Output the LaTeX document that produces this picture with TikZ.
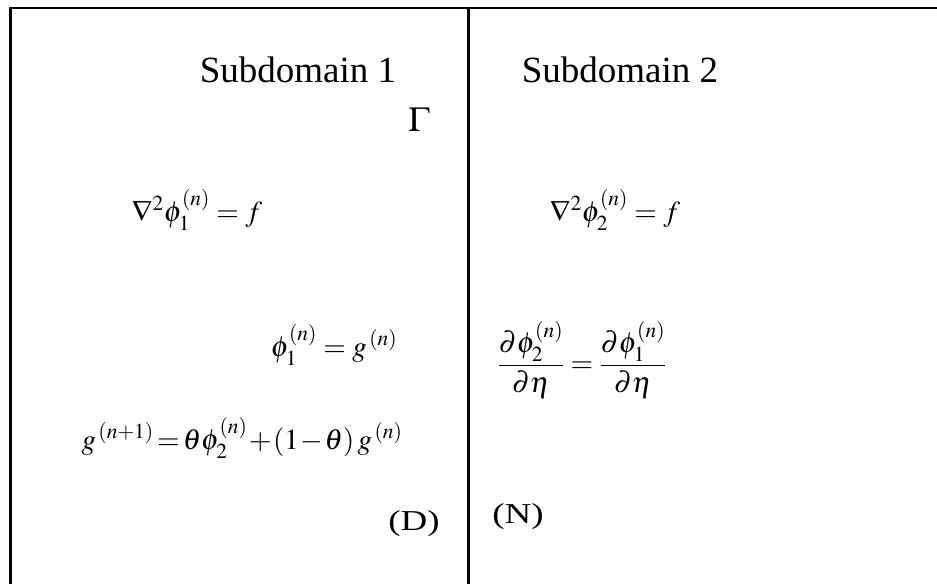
\documentclass[tikz,border=0pt]{standalone}
\usepackage{amsmath}
\usepackage{mathptmx}
\usepackage[no-math]{fontspec}
\setmainfont{Liberation Serif}
\usetikzlibrary{positioning}

\begin{document}
\begin{tikzpicture}[x=1pt, y=-1pt,
    label text/.style={inner sep=0pt, font=\fontsize{37}{42}\selectfont},
    tag text/.style={inner sep=0pt, font=\fontsize{37}{42}\selectfont},
    eqn/.style={inner sep=0pt, font=\fontsize{29}{34}\selectfont}]
    \useasboundingbox (0,0) rectangle (937,584);

    % domain outline and interface
    \coordinate (topleft) at (10.5,8);
    \coordinate (botleft) at (10.5,584);
    \coordinate (topright) at (937,8);
    \coordinate (gtop) at (468.5,8);
    \coordinate (gbot) at (468.5,584);
    \draw[line width=2.8pt] (botleft) -- (topleft) -- (topright);
    \draw[line width=2.8pt] (gtop) -- (gbot);

    \node[label text] (subone) at (298,70) {Subdomain 1};
    \node[label text] (subtwo) at (620,70) {Subdomain 2};
    \node[eqn, font=\fontsize{35}{40}\selectfont] (gamma) at (419,120) {$\Gamma$};

    \node[eqn] (poissonone) at (197,210) {$\nabla^2\phi_1^{(n)}=f$};
    \node[eqn] (poissontwo) at (615,210) {$\nabla^2\phi_2^{(n)}=f$};

    \node[eqn] (dirichlet) at (334,345) {$\phi_1^{(n)}=g^{\,(n)}$};
    \node[eqn] (neumann) at (582,360) {$\dfrac{\partial\phi_2^{(n)}}{\partial\eta}=\dfrac{\partial\phi_1^{(n)}}{\partial\eta}$};
    \node[eqn] (relax) at (242,438) {\thickmuskip=2mu \medmuskip=1mu
        $g^{\,(n+1)}=\theta\phi_2^{(n)}+(1-\theta)\,g^{\,(n)}$};

    \node[tag text] (dtag) at (414,524) {\scalebox{1}[0.78]{(D)}};
    \node[tag text] (ntag) at (518,517) {\scalebox{1}[0.78]{(N)}};
\end{tikzpicture}
\end{document}
